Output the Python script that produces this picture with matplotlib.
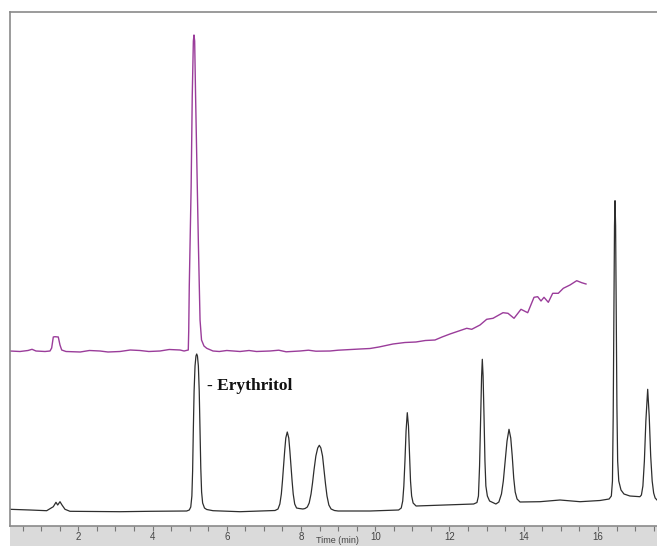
import matplotlib.pyplot as plt
from matplotlib.patches import Rectangle
from matplotlib.ticker import MultipleLocator

# retention time [min] and detector signal [arb. units]
black_t = [0.160, 0.699, 1.149, 1.327, 1.399, 1.445, 1.507, 1.561, 1.642, 1.776,
           3.123, 3.932, 4.920, 4.990, 5.030, 5.060, 5.080, 5.098, 5.120, 5.145,
           5.170, 5.190, 5.210, 5.235, 5.258, 5.280, 5.300, 5.322, 5.350, 5.400,
           5.460, 5.629, 6.356, 7.300, 7.380, 7.430, 7.470, 7.500, 7.530, 7.560,
           7.590, 7.630, 7.670, 7.700, 7.730, 7.760, 7.790, 7.830, 7.880, 7.950,
           8.050, 8.110, 8.170, 8.220, 8.270, 8.310, 8.350, 8.400, 8.450, 8.493,
           8.535, 8.580, 8.620, 8.660, 8.700, 8.750, 8.810, 8.900, 9.000, 9.859,
           10.630, 10.700, 10.740, 10.770, 10.800, 10.830, 10.863, 10.895, 10.925, 10.950,
           10.980, 11.020, 11.100, 11.843, 12.650, 12.740, 12.780, 12.810, 12.840, 12.865,
           12.884, 12.905, 12.930, 12.955, 12.980, 13.020, 13.080, 13.250, 13.330, 13.400,
           13.450, 13.500, 13.550, 13.603, 13.650, 13.690, 13.730, 13.770, 13.820, 13.900,
           14.438, 14.977, 15.516, 16.054, 16.300, 16.360, 16.390, 16.410, 16.430, 16.445,
           16.459, 16.475, 16.490, 16.510, 16.530, 16.560, 16.620, 16.700, 16.860, 17.130,
           17.170, 17.210, 17.250, 17.290, 17.339, 17.380, 17.420, 17.460, 17.500, 17.540,
           17.590]
black_v = [16.7, 16.0, 15.3, 19.3, 23.7, 21.0, 24.3, 21.0, 16.7, 14.7,
           14.3, 14.7, 15.0, 16.0, 19.0, 30.0, 55.0, 94.0, 135.0, 160.0,
           170.0, 172.0, 170.0, 160.0, 135.0, 94.0, 58.0, 34.0, 23.0, 18.0,
           16.5, 15.3, 14.3, 15.5, 17.0, 22.0, 32.0, 45.0, 60.0, 75.0,
           88.0, 94.0, 88.0, 75.0, 60.0, 45.0, 32.0, 22.0, 18.0, 17.5,
           17.0, 17.5, 19.0, 23.0, 32.0, 43.0, 56.0, 70.0, 78.0, 80.7,
           78.0, 70.0, 56.0, 42.0, 30.0, 21.0, 17.0, 15.5, 15.0, 15.0,
           16.0, 18.0, 25.0, 40.0, 65.0, 95.0, 113.3, 100.0, 70.0, 45.0,
           30.0, 23.0, 20.0, 21.0, 22.0, 23.5, 30.0, 60.0, 110.0, 150.0,
           166.7, 150.0, 110.0, 65.0, 40.0, 30.0, 25.0, 22.0, 24.0, 32.0,
           45.0, 65.0, 85.0, 96.7, 88.0, 70.0, 48.0, 34.0, 27.0, 24.0,
           24.3, 26.0, 24.3, 25.5, 27.0, 30.0, 45.0, 110.0, 220.0, 300.0,
           325.3, 300.0, 220.0, 120.0, 65.0, 45.0, 36.0, 32.0, 30.0, 29.3,
           31.0, 40.0, 65.0, 105.0, 136.7, 110.0, 70.0, 45.0, 33.0, 28.0,
           26.0]

purple_t = [0.160, 0.429, 0.645, 0.754, 0.860, 1.103, 1.238, 1.283, 1.327, 1.372,
            1.461, 1.507, 1.553, 1.669, 2.050, 2.300, 2.585, 2.800, 3.123, 3.400,
            3.662, 3.900, 4.201, 4.450, 4.740, 4.850, 4.963, 4.975, 4.990, 5.040,
            5.070, 5.100, 5.117, 5.135, 5.160, 5.206, 5.235, 5.260, 5.280, 5.320,
            5.386, 5.460, 5.629, 5.800, 6.000, 6.356, 6.600, 6.800, 7.164, 7.400,
            7.600, 7.973, 8.200, 8.400, 8.781, 9.000, 9.200, 9.589, 9.859, 10.100,
            10.478, 10.800, 11.096, 11.350, 11.609, 11.800, 12.013, 12.464, 12.599, 12.822,
            13.002, 13.172, 13.441, 13.576, 13.738, 13.926, 14.107, 14.277, 14.376, 14.465,
            14.546, 14.662, 14.780, 14.931, 15.066, 15.246, 15.427, 15.562, 15.677]
purple_v = [175.0, 174.5, 175.5, 176.7, 175.0, 174.5, 175.0, 178.0, 189.0, 189.3,
            189.0, 181.0, 176.0, 174.5, 174.0, 175.5, 175.0, 174.0, 174.5, 176.0,
            175.5, 174.5, 175.0, 176.5, 176.0, 175.0, 176.0, 195.0, 240.0, 339.0,
            430.0, 485.0, 491.0, 485.0, 430.0, 339.0, 283.0, 240.0, 206.0, 186.0,
            180.0, 177.7, 175.0, 174.5, 175.5, 174.5, 175.5, 174.5, 175.0, 175.8,
            174.2, 175.0, 175.8, 174.8, 175.0, 175.8, 176.2, 177.0, 177.5, 179.0,
            182.0, 183.5, 184.0, 185.5, 186.0, 189.0, 192.0, 197.7, 196.7, 201.0,
            206.7, 207.7, 213.3, 212.7, 207.7, 216.7, 213.3, 228.7, 229.3, 225.0,
            228.7, 223.7, 232.7, 232.7, 237.7, 241.0, 245.3, 243.3, 242.0]

peak_label = "- Erythritol"
peak_label_t = 5.46
peak_label_v = 140

W, H = 657, 546
fig = plt.figure(figsize=(W / 100, H / 100), dpi=100)
fig.patch.set_facecolor("white")

# grey time-axis strip under the plot
fig.add_artist(Rectangle((9.5 / W, 0), 1 - 9.5 / W, 20 / H, transform=fig.transFigure,
                         facecolor="#dadada", edgecolor="none", zorder=0))

ax = fig.add_axes([9.5 / W, 20 / H, 1 - 9.5 / W, 514 / H])
ax.plot(purple_t, purple_v, color="#9a3c9a", lw=1.0)
ax.plot(black_t, black_v, color="#2e2e2e", lw=0.9)
ax.text(peak_label_t, peak_label_v, peak_label, family="Liberation Serif",
        fontweight="bold", fontsize=12.5, ha="left", va="center", color="#111111")

ax.set_xlim(0.147, 17.59)
ax.set_ylim(0, 514)
ax.set_yticks([])
ax.xaxis.set_major_locator(MultipleLocator(2))
ax.xaxis.set_minor_locator(MultipleLocator(0.5))
ax.tick_params(axis="x", which="both", direction="out", length=3.6, width=0.8,
               color="#777777", pad=1, labelsize=7, labelcolor="#444444")
for lbl in ax.get_xticklabels():
    lbl.set_family("Liberation Sans")
ax.spines["right"].set_visible(False)
for side in ("left", "top", "bottom"):
    ax.spines[side].set_color("#8a8a8a")
    ax.spines[side].set_linewidth(1.2)

fig.text(337 / W, 1 / H, "Time (min)", ha="center", va="bottom", fontsize=6.5,
         color="#444444", family="Liberation Sans")

fig.savefig("out.png", dpi=100)
